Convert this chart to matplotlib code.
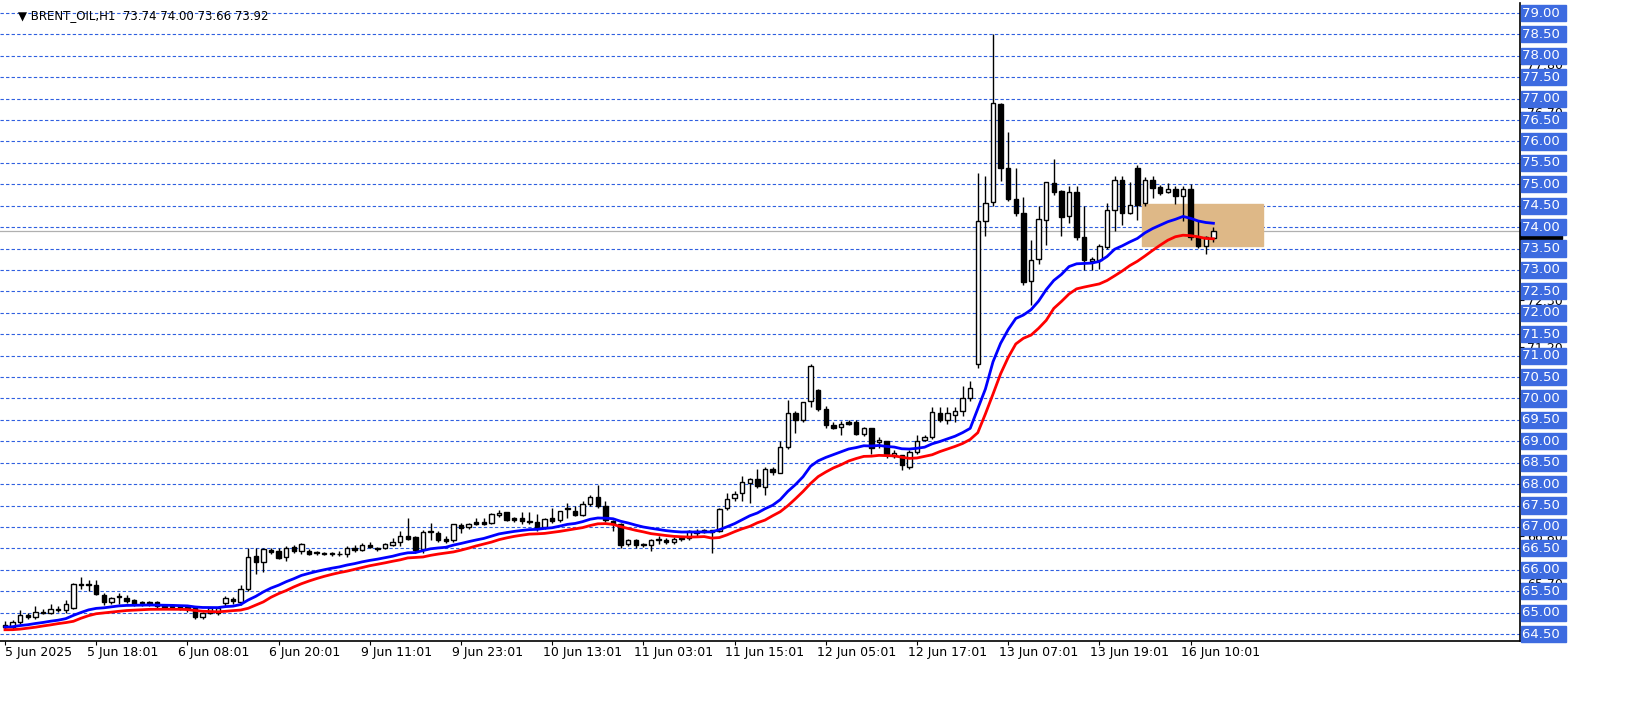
import numpy as np
import pandas as pd
import matplotlib
matplotlib.use("Agg")
import matplotlib.pyplot as plt
from matplotlib.patches import Rectangle
import matplotlib.transforms as mtransforms

# ---------------- DATA (hourly Brent candles) ---------------- #
opens = [64.72, 64.66, 64.78, 64.95, 64.90, 65.02, 65.00, 65.08, 65.05,
         65.11, 65.64, 65.65, 65.64, 65.42, 65.24, 65.36, 65.35, 65.29, 65.22, 65.25, 65.24,
         65.14, 65.14, 65.15, 65.11, 65.10, 64.90, 65.00, 65.00, 65.22, 65.31, 65.24, 65.56,
         66.32, 66.19, 66.46, 66.45, 66.31, 66.54, 66.43, 66.43, 66.40,
         66.39, 66.37, 66.38, 66.36, 66.52, 66.46, 66.58,
         66.48, 66.52, 66.58, 66.64, 66.78, 66.76, 66.49, 66.88, 66.87, 66.73, 66.70, 67.04,
         66.99, 67.11, 67.11, 67.09, 67.27, 67.34, 67.20, 67.20, 67.12, 67.12, 67.00, 67.21,
         67.16, 67.41, 67.38, 67.29, 67.54, 67.71, 67.50, 67.14, 67.07, 66.60, 66.69, 66.58,
         66.58, 66.69, 66.70, 66.64, 66.72, 66.75, 66.90,
         66.88, 66.92, 66.90, 67.45, 67.67, 67.80, 68.02, 68.11, 67.93, 68.36, 68.27, 68.86,
         69.67, 69.50, 69.93, 70.19, 69.76, 69.38, 69.33, 69.44, 69.45, 69.17, 69.30, 68.98,
         69.00, 68.65, 68.67, 68.41, 68.76, 69.02, 69.11, 69.67, 69.50, 69.62, 69.70, 70.00,
         70.80, 74.14, 74.59, 76.87, 75.38, 74.66, 74.33, 72.74, 73.25, 74.17, 75.04, 74.84,
         74.25, 74.82, 73.77, 73.20, 73.23, 73.54, 74.40, 75.09, 74.32, 75.39, 74.56, 75.11,
         74.94, 74.82, 74.89, 74.72, 74.89, 73.78, 73.56, 73.74]
highs = [64.80, 64.82, 65.05, 65.00, 65.15, 65.08, 65.20, 65.15, 65.30,
         65.68, 65.84, 65.75, 65.75, 65.45, 65.36, 65.45, 65.40, 65.32, 65.28, 65.28, 65.26,
         65.18, 65.20, 65.18, 65.15, 65.12, 65.02, 65.12, 65.14, 65.38, 65.36, 65.64, 66.50,
         66.50, 66.50, 66.52, 66.50, 66.55, 66.58, 66.62, 66.48, 66.45,
         66.42, 66.42, 66.45, 66.55, 66.58, 66.62, 66.66,
         66.54, 66.62, 66.75, 66.90, 67.20, 66.78, 66.93, 67.10, 66.90, 66.80, 67.08, 67.10,
         67.10, 67.20, 67.20, 67.33, 67.40, 67.36, 67.24, 67.36, 67.36, 67.30, 67.22, 67.45,
         67.38, 67.55, 67.48, 67.60, 67.75, 67.99, 67.60, 67.16, 67.10, 66.72, 66.72, 66.62,
         66.72, 66.80, 66.74, 66.76, 66.78, 66.92, 66.95,
         66.95, 66.94, 67.45, 67.80, 67.85, 68.20, 68.15, 68.35, 68.40, 68.40, 69.00, 69.97,
         69.70, 69.91, 70.80, 70.23, 69.82, 69.45, 69.48, 69.50, 69.50, 69.33, 69.30, 69.10,
         69.00, 68.80, 68.67, 68.80, 69.15, 69.15, 69.80, 69.80, 69.80, 69.80, 70.30, 70.40,
         75.26, 75.20, 78.50, 76.90, 76.22, 75.38, 74.71, 73.70, 74.50, 75.06, 75.60, 74.86,
         74.96, 74.96, 74.50, 73.30, 73.60, 74.56, 75.20, 75.20, 75.06, 75.45, 75.16, 75.20,
         74.98, 75.03, 74.96, 74.96, 75.00, 74.14, 73.80, 74.00]
lows = [64.60, 64.62, 64.74, 64.86, 64.86, 64.96, 64.96, 65.02, 65.00,
        65.08, 65.55, 65.50, 65.40, 65.18, 65.20, 65.20, 65.22, 65.15, 65.15, 65.16, 65.10,
        65.08, 65.08, 65.06, 65.02, 64.85, 64.86, 64.96, 64.95, 65.15, 65.20, 65.18, 65.50,
        65.90, 65.95, 66.38, 66.25, 66.20, 66.40, 66.38, 66.34, 66.34,
        66.34, 66.33, 66.32, 66.30, 66.42, 66.44, 66.50,
        66.45, 66.48, 66.55, 66.55, 66.70, 66.40, 66.40, 66.70, 66.65, 66.62, 66.66, 66.85,
        66.95, 67.05, 67.04, 67.06, 67.24, 67.14, 67.12, 67.07, 67.07, 66.90, 66.95, 67.10,
        67.12, 67.20, 67.25, 67.25, 67.50, 67.45, 67.12, 66.90, 66.50, 66.55, 66.52, 66.54,
        66.45, 66.60, 66.60, 66.60, 66.68, 66.70, 66.80,
        66.85, 66.40, 66.88, 67.40, 67.60, 67.60, 67.55, 67.90, 67.75, 68.22, 68.25, 68.82,
        69.20, 69.45, 69.80, 69.70, 69.30, 69.28, 69.15, 69.38, 69.15, 69.12, 68.70, 68.85,
        68.62, 68.60, 68.32, 68.35, 68.70, 69.00, 69.05, 69.45, 69.40, 69.45, 69.60, 69.95,
        70.70, 73.80, 74.50, 75.07, 74.60, 74.26, 72.66, 72.18, 73.15, 73.59, 74.75, 73.80,
        74.10, 73.70, 73.00, 73.00, 73.02, 73.50, 73.90, 74.05, 74.30, 74.17, 74.50, 74.69,
        74.74, 74.79, 74.55, 74.15, 73.70, 73.52, 73.37, 73.66]
closes = [64.66, 64.78, 64.95, 64.90, 65.02, 65.00, 65.08, 65.05, 65.20,
          65.66, 65.65, 65.64, 65.43, 65.24, 65.35, 65.37, 65.27, 65.20, 65.22, 65.20, 65.15,
          65.13, 65.15, 65.11, 65.10, 64.90, 65.00, 65.10, 65.11, 65.35, 65.26, 65.55, 66.30,
          66.19, 66.48, 66.41, 66.28, 66.50, 66.45, 66.60, 66.38, 66.39,
          66.37, 66.38, 66.36, 66.52, 66.46, 66.58, 66.54,
          66.52, 66.60, 66.65, 66.80, 66.72, 66.46, 66.89, 66.88, 66.70, 66.67, 67.06, 66.98,
          67.06, 67.07, 67.07, 67.30, 67.33, 67.16, 67.16, 67.13, 67.12, 67.00, 67.18, 67.13,
          67.38, 67.45, 67.28, 67.53, 67.71, 67.49, 67.16, 67.07, 66.58, 66.70, 66.57, 66.58,
          66.69, 66.69, 66.64, 66.72, 66.75, 66.90, 66.86,
          66.92, 66.88, 67.43, 67.65, 67.78, 68.05, 68.12, 67.95, 68.36, 68.28, 68.87, 69.67,
          69.49, 69.91, 70.76, 69.75, 69.37, 69.32, 69.41, 69.41, 69.17, 69.30, 68.84, 69.02,
          68.67, 68.72, 68.45, 68.76, 69.00, 69.11, 69.69, 69.50, 69.65, 69.70, 70.00, 70.25,
          74.14, 74.57, 76.89, 75.39, 74.65, 74.34, 72.71, 73.24, 74.20, 75.06, 74.81, 74.23,
          74.82, 73.76, 73.23, 73.25, 73.56, 74.40, 75.10, 74.32, 74.52, 74.52, 75.11, 74.91,
          74.80, 74.89, 74.72, 74.89, 73.78, 73.56, 73.77, 73.92]

date_labels = ["5 Jun 2025", "5 Jun 18:01", "6 Jun 08:01", "6 Jun 20:01", "9 Jun 11:01",
               "9 Jun 23:01", "10 Jun 13:01", "11 Jun 03:01", "11 Jun 15:01", "12 Jun 05:01",
               "12 Jun 17:01", "13 Jun 07:01", "13 Jun 19:01", "16 Jun 10:01"]
grid_levels = [64.5 + 0.5 * k for k in range(30)]
scale_ticks = [64.6, 65.7, 66.8, 67.9, 69.0, 70.1, 71.2, 72.3, 73.4, 74.5, 75.6, 76.7, 77.8]
zone_low, zone_high = 73.55, 74.55
zone_start, zone_end = 149.6, 165.5

df = pd.DataFrame({"open": opens, "high": highs, "low": lows, "close": closes})
ema_fast = df["close"].ewm(span=20, adjust=False).mean()
ema_low = df["low"].ewm(span=20, adjust=False).mean()

# ---------------- FIGURE ---------------- #
W, H = 1651, 705
fig = plt.figure(figsize=(W / 100, H / 100), dpi=100)
ax = fig.add_axes([0, 1 - 641 / H, 1520 / W, (641 - 3) / H])
px = 7.6
ax.set_xlim(-5 / px, 1515 / px)
ymin = 79.0 - (641 - 13) / 42.83
ymax = 79.0 + (13 - 3) / 42.83
ax.set_ylim(ymin, ymax)

for lv in grid_levels:
    ax.axhline(lv, color="#2f5fe0", lw=0.8, ls=(0, (3, 2)), zorder=1)
ax.axhline(closes[-1], color="#b0b0b0", lw=0.9, zorder=1)

ax.add_patch(Rectangle((zone_start, zone_low), zone_end - zone_start, zone_high - zone_low,
                       color="#deb887", zorder=2))

x = np.arange(len(df))
ax.vlines(x, df["low"], df["high"], color="black", lw=1, zorder=3)
up = df["close"] >= df["open"]
bottoms = np.minimum(df["open"], df["close"])
heights = np.maximum(np.abs(df["close"] - df["open"]), 0.02)
ax.bar(x[up], heights[up], bottom=bottoms[up], width=0.6, color="white",
       edgecolor="black", lw=1, zorder=4)
ax.bar(x[~up], heights[~up], bottom=bottoms[~up], width=0.6, color="black",
       edgecolor="black", lw=1, zorder=4)

ax.plot(x, ema_fast, color="#0000ff", lw=2, zorder=5)
ax.plot(x, ema_low, color="#ff0000", lw=2, zorder=5)

# ---------------- AXES ---------------- #
for s in ["top", "left"]:
    ax.spines[s].set_visible(False)
ax.spines["right"].set_linewidth(1.2)
ax.spines["bottom"].set_linewidth(1.2)
ax.yaxis.tick_right()
ax.set_yticks(scale_ticks)
ax.set_yticklabels([f"{v:.2f}" for v in scale_ticks], fontsize=9)
ax.tick_params(axis="y", length=3, pad=2)
ax.set_xticks([12 * k for k in range(len(date_labels))])
ax.set_xticklabels([])
ax.tick_params(axis="x", length=3)
for k, lab in enumerate(date_labels):
    ax.text(12 * k - 1.2 if k else 0, ymin - 0.12, lab, ha="left", va="top",
            fontsize=9, clip_on=False)

trans = mtransforms.blended_transform_factory(ax.transAxes, ax.transData)
ax.text(1.0015, closes[-1], f"{closes[-1]:.2f}", transform=trans, fontsize=9.5,
        color="white", va="center", ha="left", zorder=10, clip_on=False,
        bbox=dict(boxstyle="square,pad=0.15", fc="black", ec="black"))
for lv in grid_levels:
    ax.text(1.0015, lv, f"{lv:.2f} ", transform=trans, fontsize=9.5, color="white",
            va="center", ha="left", zorder=11, clip_on=False,
            bbox=dict(boxstyle="square,pad=0.12", fc="#3d6be0", ec="#3d6be0"))

ax.text(0.012, 0.99, "\u25bc BRENT_OIL,H1  73.74 74.00 73.66 73.92", transform=ax.transAxes,
        fontsize=8.5, va="top", ha="left")

fig.savefig("out.png", dpi=100)
